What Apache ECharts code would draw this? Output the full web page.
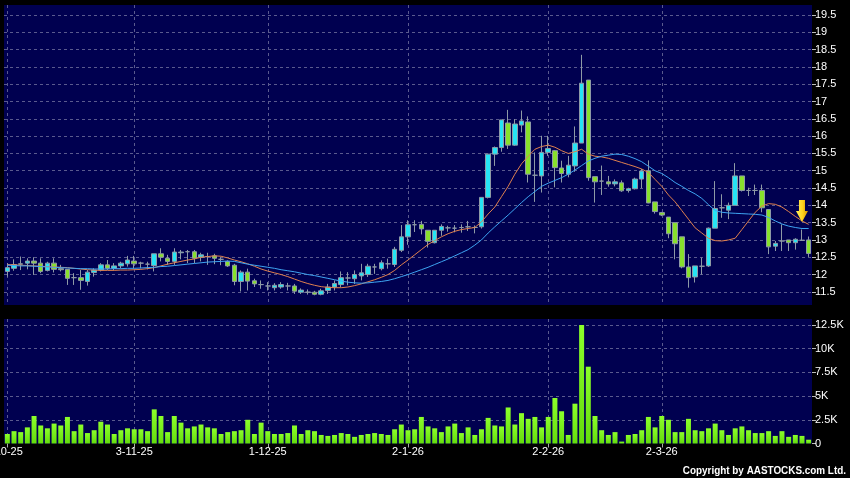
<!DOCTYPE html>
<html><head><meta charset="utf-8">
<script src="https://cdn.jsdelivr.net/npm/echarts@6/dist/echarts.min.js"></script>
<style>html,body{margin:0;padding:0;background:#000;}#c{width:850px;height:478px;}</style>
</head><body><div id="c"></div>
<script>
const dates = [
'3-10-25','6-10-25','8-10-25','9-10-25','10-10-25','13-10-25','14-10-25','15-10-25','16-10-25','17-10-25','20-10-25','21-10-25','22-10-25','23-10-25','24-10-25','27-10-25','28-10-25','30-10-25','31-10-25',
'3-11-25','4-11-25','5-11-25','6-11-25','7-11-25','10-11-25','11-11-25','12-11-25','13-11-25','14-11-25','17-11-25','18-11-25','19-11-25','20-11-25','21-11-25','24-11-25','25-11-25','26-11-25','27-11-25','28-11-25',
'1-12-25','2-12-25','3-12-25','4-12-25','5-12-25','8-12-25','9-12-25','10-12-25','11-12-25','12-12-25','15-12-25','16-12-25','17-12-25','18-12-25','19-12-25','22-12-25','23-12-25','24-12-25','29-12-25','30-12-25','31-12-25',
'2-1-26','5-1-26','6-1-26','7-1-26','8-1-26','9-1-26','12-1-26','13-1-26','14-1-26','15-1-26','16-1-26','19-1-26','20-1-26','21-1-26','22-1-26','23-1-26','26-1-26','27-1-26','28-1-26','29-1-26','30-1-26',
'2-2-26','3-2-26','4-2-26','5-2-26','6-2-26','9-2-26','10-2-26','11-2-26','12-2-26','13-2-26','16-2-26','20-2-26','23-2-26','24-2-26','25-2-26','26-2-26','27-2-26',
'2-3-26','3-3-26','4-3-26','5-3-26','6-3-26','9-3-26','10-3-26','11-3-26','12-3-26','13-3-26','16-3-26','17-3-26','18-3-26','19-3-26','20-3-26','23-3-26','24-3-26','25-3-26','26-3-26','27-3-26','30-3-26','31-3-26',
'1-4-26'];

const openP = [12.09,12.18,12.31,12.33,12.39,12.33,12.12,12.33,12.17,12.15,
11.91,11.91,11.80,12.06,12.13,12.28,12.18,12.25,12.31,12.39,
12.33,12.30,12.26,12.60,12.47,12.38,12.63,12.66,12.66,12.50,
12.52,12.54,12.44,12.38,12.27,11.80,12.07,11.82,11.71,11.67,
11.62,11.64,11.67,11.67,11.49,11.49,11.49,11.43,11.54,11.64,
11.71,11.90,11.88,11.96,12.00,12.22,12.17,12.31,12.29,12.70,
13.09,13.44,13.45,13.28,12.92,13.28,13.35,13.34,13.36,13.38,
13.36,13.38,14.23,15.48,15.67,16.38,15.74,16.32,16.41,14.87,
14.85,15.53,15.58,15.08,14.90,15.14,15.80,17.62,14.83,14.70,
14.68,14.62,14.65,14.43,14.48,14.76,15.00,14.10,13.79,13.66,
13.50,13.09,12.22,11.93,12.24,12.25,13.34,13.93,13.86,14.00,
14.85,14.43,14.43,14.43,13.88,12.82,12.97,13.00,12.92,12.99,
13.00];
const closeP = [12.20,12.29,12.30,12.39,12.33,12.09,12.33,12.15,12.14,11.89,
11.91,11.83,12.07,12.13,12.28,12.18,12.25,12.33,12.42,12.31,
12.33,12.30,12.60,12.50,12.38,12.65,12.65,12.66,12.47,12.57,
12.52,12.47,12.44,12.25,11.80,12.07,11.81,11.73,11.71,11.67,
11.69,11.71,11.67,11.52,11.55,11.49,11.43,11.53,11.64,11.74,
11.91,11.90,12.00,12.05,12.24,12.22,12.34,12.31,12.73,13.09,
13.44,13.44,13.32,12.96,13.28,13.39,13.35,13.34,13.36,13.38,
13.36,14.23,15.48,15.67,16.47,15.74,16.35,16.44,14.90,14.87,
15.53,15.64,15.09,14.92,15.16,15.80,17.53,14.80,14.68,14.70,
14.62,14.68,14.42,14.48,14.76,14.99,14.07,13.82,13.72,13.18,
12.89,12.22,11.91,12.25,12.24,13.34,13.91,13.93,14.00,14.85,
14.43,14.43,14.43,13.93,12.80,12.90,12.97,12.92,13.02,12.99,
12.61];
const lowP = [11.94,12.11,12.13,12.15,11.99,12.04,12.09,12.06,12.09,11.70,
11.70,11.56,11.68,11.94,12.09,12.13,12.13,12.18,12.23,12.18,
12.18,12.15,12.09,12.38,12.28,12.28,12.44,12.33,12.33,12.38,
12.28,12.30,12.27,12.22,11.69,11.51,11.54,11.64,11.59,11.54,
11.54,11.59,11.54,11.44,11.44,11.42,11.40,11.40,11.44,11.54,
11.64,11.69,11.73,11.83,11.93,12.02,12.12,12.17,12.22,12.65,
12.86,13.23,13.16,12.78,12.90,13.12,13.24,13.22,13.21,13.26,
13.19,13.33,14.20,15.14,15.55,15.63,15.72,16.11,14.66,14.10,
14.37,15.43,14.52,14.66,14.81,14.97,15.80,14.71,14.08,14.30,
14.54,14.55,14.39,14.37,14.46,14.50,14.06,13.76,13.69,13.05,
12.44,12.18,11.62,11.77,12.00,12.22,13.34,13.64,13.60,14.00,
14.40,14.27,14.30,13.80,12.59,12.68,12.68,12.68,12.72,12.97,
12.51];
const highP = [12.33,12.44,12.52,12.47,12.50,12.47,12.37,12.47,12.28,12.16,
12.04,12.13,12.13,12.18,12.33,12.42,12.33,12.37,12.54,12.54,
12.37,12.37,12.60,12.76,12.57,12.76,12.71,12.71,12.71,12.63,
12.63,12.60,12.50,12.41,12.31,12.12,12.17,11.88,11.83,11.78,
11.75,11.78,11.76,11.73,11.60,11.57,11.53,11.59,11.73,11.83,
12.09,12.07,12.12,12.31,12.31,12.31,12.41,12.46,12.80,13.43,
13.57,13.57,13.55,13.28,13.28,13.45,13.41,13.43,13.45,13.55,
13.42,14.23,15.50,15.70,16.47,16.76,16.49,16.74,16.57,15.53,
16.01,16.01,15.60,15.29,15.43,16.28,18.35,17.62,14.83,15.15,
14.85,14.75,14.72,14.51,14.80,15.05,15.30,14.10,13.81,13.66,
13.50,13.09,12.59,12.25,12.49,13.36,14.70,14.32,14.08,15.22,
14.85,14.51,14.60,14.60,13.88,12.97,13.45,13.00,13.05,13.30,
13.10];
const volume = [1000,1300,1200,1700,2900,1900,1600,2100,1900,2800,
1300,2000,1100,1400,2300,2000,1000,1400,1600,1500,
1500,1300,3600,2900,1200,2900,2200,1600,1800,2000,
1700,1600,1000,1200,1300,1400,2500,1000,2200,1300,
1000,1000,1100,1900,1000,1400,1300,900,800,900,
1100,1000,700,900,1000,1100,1000,900,1500,2000,
1400,1500,2800,1800,1600,1200,1800,2100,1100,1700,
900,1500,2700,1900,1800,3800,2000,3200,2600,2800,
1700,2800,4800,3400,900,4200,12500,8100,2900,1400,
900,1200,200,900,1000,1400,2800,1700,2900,2500,
1200,1200,2600,1400,1300,1600,2100,1400,900,1600,
1800,1400,1100,1100,1300,800,1300,700,900,800,
400];
const maShort = [12.29,12.28,12.27,12.26,12.25,12.24,12.23,12.22,12.21,12.20,
12.18,12.16,12.14,12.13,12.12,12.12,12.12,12.13,12.13,12.14,
12.15,12.17,12.20,12.25,12.30,12.34,12.38,12.42,12.45,12.50,
12.52,12.54,12.53,12.48,12.42,12.37,12.31,12.24,12.16,12.10,
12.05,12.00,11.94,11.87,11.80,11.74,11.69,11.65,11.63,11.62,
11.62,11.64,11.68,11.73,11.79,11.85,11.92,12.00,12.12,12.28,
12.42,12.57,12.72,12.87,12.98,13.09,13.18,13.25,13.30,13.33,
13.36,13.52,13.75,13.95,14.25,14.55,14.90,15.20,15.42,15.62,
15.70,15.74,15.68,15.58,15.50,15.55,15.62,15.48,15.42,15.40,
15.36,15.30,15.24,15.18,15.12,15.05,14.95,14.75,14.55,14.30,
14.10,13.85,13.60,13.35,13.20,13.05,12.98,12.97,13.00,13.05,
13.30,13.55,13.80,13.98,14.05,14.03,13.95,13.82,13.68,13.55,
13.45];
const maLong = [12.27,12.26,12.25,12.25,12.24,12.23,12.22,12.21,12.20,12.19,
12.18,12.17,12.17,12.16,12.16,12.16,12.17,12.17,12.18,12.18,
12.19,12.20,12.21,12.23,12.24,12.26,12.28,12.30,12.32,12.34,
12.36,12.37,12.38,12.39,12.38,12.34,12.30,12.27,12.24,12.21,
12.18,12.14,12.11,12.08,12.04,12.00,11.97,11.93,11.89,11.85,
11.81,11.78,11.76,11.75,11.76,11.78,11.80,11.83,11.88,11.94,
12.00,12.07,12.14,12.21,12.29,12.37,12.45,12.54,12.63,12.72,
12.85,13.00,13.20,13.38,13.55,13.72,13.90,14.08,14.25,14.40,
14.55,14.64,14.72,14.80,14.90,15.02,15.15,15.28,15.36,15.42,
15.45,15.48,15.47,15.42,15.35,15.26,15.13,15.00,14.92,14.80,
14.66,14.55,14.43,14.33,14.20,14.02,13.85,13.80,13.78,13.77,
13.76,13.75,13.74,13.72,13.65,13.55,13.46,13.40,13.36,13.33,
13.33];
const tickIndex = [0, 19, 39, 60, 81, 98];
const arrowIndex = 119;
const arrowPrice = 13.84;

const labelSet = new Set(tickIndex);
const showTick = (i) => labelSet.has(i);
const dash = { color: '#5a5a8e', type: [3, 3], width: 1 };
const candles = dates.map((d, i) => [openP[i], closeP[i], lowP[i], highP[i]]);

const chart = echarts.init(document.getElementById('c'));
chart.setOption({
  animation: false,
  backgroundColor: '#000000',
  textStyle: { fontFamily: '"Liberation Sans", Arial, sans-serif' },
  grid: [
    { left: 4, right: 38, top: 5, height: 300, show: true, backgroundColor: '#000050', borderWidth: 0, containLabel: false, outerBoundsMode: 'none' },
    { left: 4, right: 38, top: 319, height: 124.5, show: true, backgroundColor: '#000050', borderWidth: 0, containLabel: false, outerBoundsMode: 'none' }
  ],
  xAxis: [
    { type: 'category', gridIndex: 0, data: dates, boundaryGap: true,
      axisLine: { show: false }, axisTick: { show: false }, axisLabel: { show: false },
      splitLine: { show: true, interval: (i) => showTick(i), alignWithLabel: true, lineStyle: dash } },
    { type: 'category', gridIndex: 1, data: dates, boundaryGap: true,
      axisLine: { show: false },
      axisTick: { show: true, interval: (i) => showTick(i), alignWithLabel: true, length: 4, lineStyle: { color: '#aaaaaa' } },
      axisLabel: { show: true, interval: (i) => showTick(i), color: '#ffffff', fontSize: 11, margin: 3, hideOverlap: false,
        formatter: (v, i) => i === 0 ? '{first|' + v + '}' : v,
        rich: { first: { color: '#ffffff', fontSize: 11, padding: [0, 7, 0, 0] } } },
      splitLine: { show: true, interval: (i) => showTick(i), alignWithLabel: true, lineStyle: dash } }
  ],
  yAxis: [
    { type: 'value', gridIndex: 0, position: 'right', min: 11.12, max: 19.79, splitNumber: 17,
      axisLine: { show: false },
      axisTick: { show: true, length: 4, lineStyle: { color: '#bbbbbb' } },
      axisLabel: { color: '#ffffff', fontSize: 11, margin: 3, showMinLabel: false, showMaxLabel: false,
        formatter: (v) => (Math.abs(v * 2 - Math.round(v * 2)) < 1e-6) ? String(+v.toFixed(1)) : '' },
      splitLine: { show: true, showMinLine: false, showMaxLine: false, lineStyle: dash } },
    { type: 'value', gridIndex: 1, position: 'right', min: 0, max: 13130, interval: 2500,
      axisLine: { show: false },
      axisTick: { show: true, length: 4, lineStyle: { color: '#bbbbbb' } },
      axisLabel: { color: '#ffffff', fontSize: 11, margin: 3, showMaxLabel: false,
        formatter: (v) => v === 0 ? '0' : (v % 2500 === 0 ? (v / 1000) + 'K' : '') },
      splitLine: { show: true, showMinLine: false, showMaxLine: false, lineStyle: dash } }
  ],
  series: [
    { type: 'candlestick', xAxisIndex: 0, yAxisIndex: 0, data: candles, barWidth: 5,
      itemStyle: { color: '#26e4f4', color0: '#88e02c', borderColor: '#8e9aa6', borderColor0: '#8e9aa6', borderWidth: 1 },
      markPoint: {
        symbol: 'path://M3,0L9,0L9,11L12,11L6,22L0,11L3,11Z',
        symbolSize: [12, 22], symbolKeepAspect: false,
        label: { show: false },
        itemStyle: { color: new echarts.graphic.LinearGradient(0, 0, 1, 0, [
          { offset: 0, color: '#fff25e' }, { offset: 0.55, color: '#ffd31c' }, { offset: 1, color: '#d69600' }]) },
        data: [{ coord: [dates[arrowIndex], arrowPrice] }]
      } },
    { type: 'line', xAxisIndex: 0, yAxisIndex: 0, data: maShort, symbol: 'none', smooth: false,
      lineStyle: { color: '#e0804e', width: 1 }, z: 3 },
    { type: 'line', xAxisIndex: 0, yAxisIndex: 0, data: maLong, symbol: 'none', smooth: false,
      lineStyle: { color: '#3ea4f2', width: 1 }, z: 3 },
    { type: 'bar', xAxisIndex: 1, yAxisIndex: 1, data: volume, barWidth: 5,
      itemStyle: { color: new echarts.graphic.LinearGradient(0, 0, 0, 1, [
        { offset: 0, color: '#8cff2a' }, { offset: 1, color: '#64dc0c' }]) } }
  ],
  graphic: [
    { type: 'text', x: 846, y: 465, scaleX: 0.9, originX: 0, originY: 0,
      style: { text: 'Copyright by AASTOCKS.com Ltd.', fill: '#ffffff', align: 'right', verticalAlign: 'top', font: 'bold 11px "Liberation Sans", Arial' } }
  ]
});
</script>
</body></html>
